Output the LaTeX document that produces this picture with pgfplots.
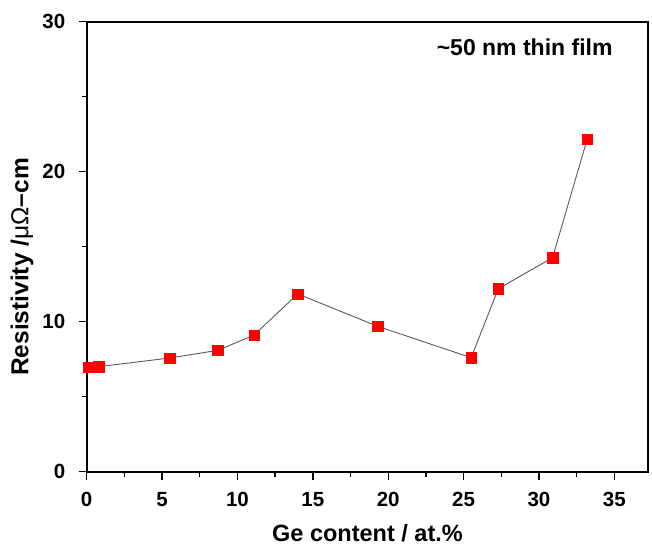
\documentclass[border=0pt]{standalone}
\usepackage{fontspec}
\setmainfont{Liberation Sans}
\usepackage{pgfplots}
\pgfplotsset{compat=1.18}

\begin{document}
\begin{tikzpicture}
\useasboundingbox (-86.7pt,-74.3pt) rectangle (565.3pt,471.7pt);
\begin{axis}[
  scale only axis,
  width=561.6pt,
  height=450pt,
  xmin=0, xmax=37.25,
  ymin=0, ymax=30,
  xtick={0,5,...,35},
  ytick={0,10,20,30},
  minor x tick num=1,
  minor y tick num=1,
  tick align=outside,
  xtick pos=bottom,
  ytick pos=left,
  major tick length=8pt,
  minor tick length=5pt,
  tick style={black, line width=1.4pt},
  axis line style={black, line width=1.8pt},
  /pgf/number format/assume math mode=true,
  tick label style={font=\fontsize{20.5}{20.5}\selectfont\bfseries},
  xticklabel style={yshift=-9pt},
  yticklabel style={xshift=-10pt},
  xlabel={Ge content / at.\%},
  ylabel={Resistivity /\textmd{μΩ}–cm},
  every axis x label/.style={at={(axis description cs:0.5,-0.154)}, anchor=base,
    font=\fontsize{23.5}{24}\selectfont\bfseries},
  every axis y label/.style={at={(axis description cs:-0.115,0.455)}, rotate=90, anchor=center,
    font=\fontsize{24.5}{25}\selectfont\bfseries},
]
\addplot[
  color=black!65,
  line width=0.9pt,
  mark=square*,
  mark size=5.2pt,
  mark options={fill=red, draw=red, line width=0.4pt}
] coordinates {
  (0.1,6.95)
  (0.8,7.0)
  (5.5,7.58)
  (8.7,8.09)
  (11.1,9.11)
  (14.0,11.85)
  (19.3,9.69)
  (25.5,7.6)
  (27.3,12.2)
  (30.9,14.27)
  (33.2,22.18)
};
\node[font=\fontsize{23}{23}\selectfont\bfseries] at (axis cs:29.05,28.3) {\textasciitilde50 nm thin film};
\end{axis}
\end{tikzpicture}
\end{document}
